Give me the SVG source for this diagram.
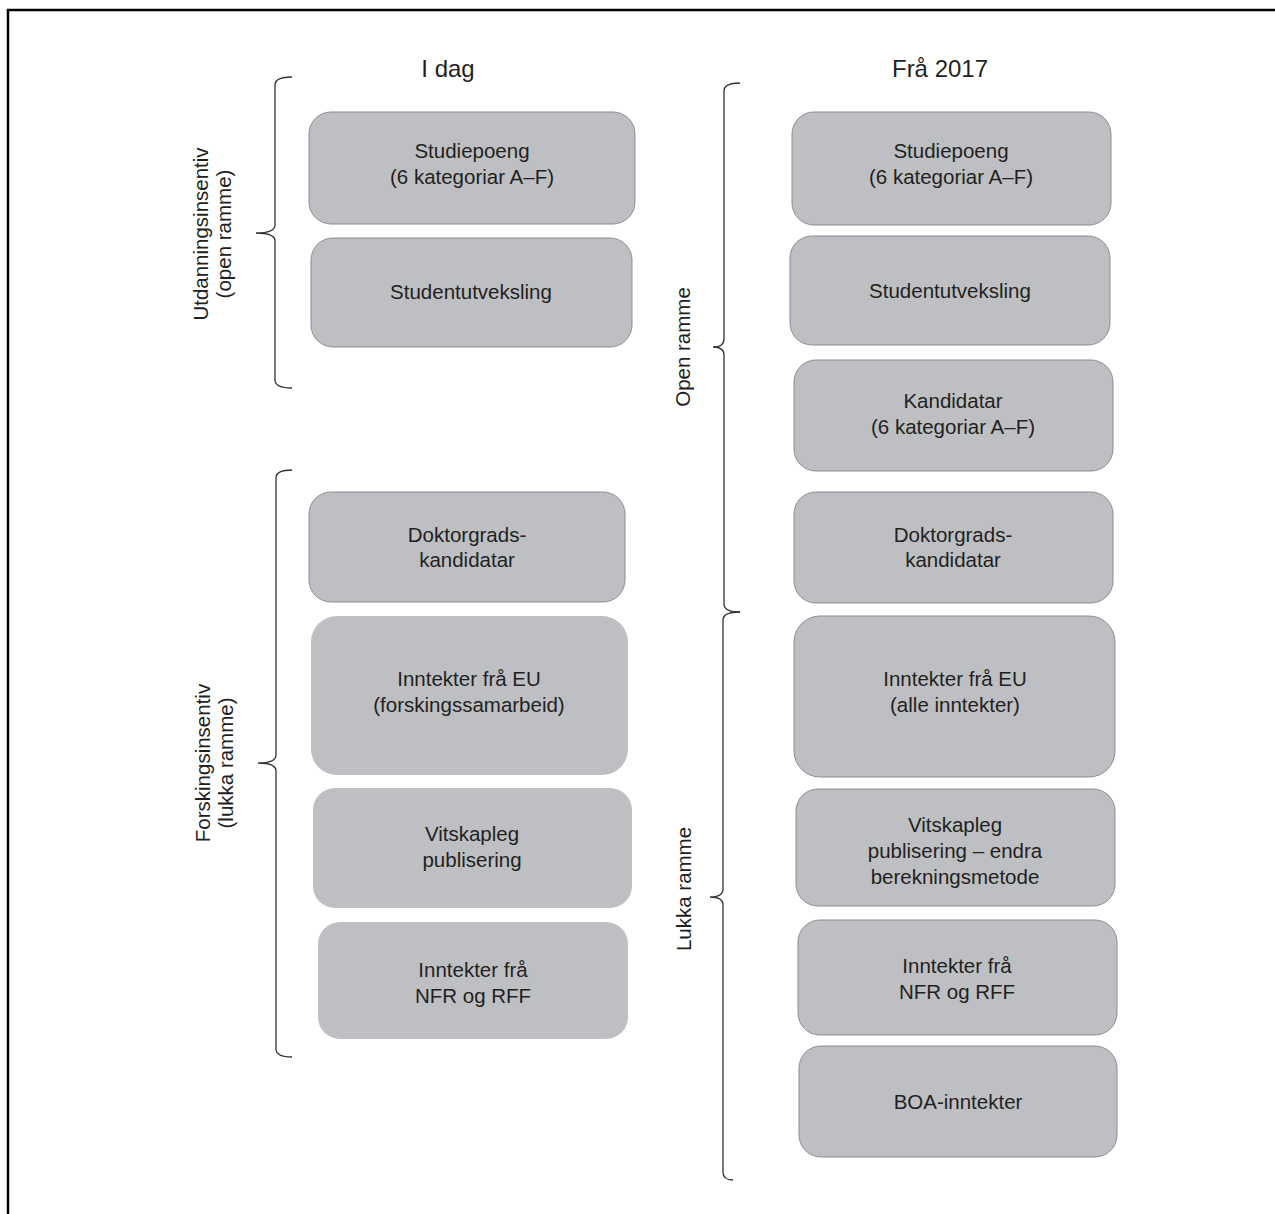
<svg xmlns="http://www.w3.org/2000/svg" width="1275" height="1214" viewBox="0 0 1275 1214">
<style>
.bx{fill:#bebfc2;stroke:#8c8d90;stroke-width:1}
.bn{fill:#bebfc2;stroke:none}
.t{font-family:"Liberation Sans",Arial,sans-serif;font-size:20.5px;fill:#231f20;text-anchor:middle}
.h{font-family:"Liberation Sans",Arial,sans-serif;font-size:24px;fill:#231f20;text-anchor:middle}
.br{fill:none;stroke:#333;stroke-width:1.3}
</style>
<rect width="1275" height="1214" fill="#fff"/>
<path d="M8 1214 V10 H1275" fill="none" stroke="#000" stroke-width="2.5"/>
<text class="h" x="448" y="77">I dag</text>
<text class="h" x="940" y="77">Frå 2017</text>
<g id="braces">
<path class="br" d="M292 77 Q275 77 275 85 L275 225 Q275 233 256 233 Q275 233 275 241 L275 380 Q275 388 292 388"/>
<path class="br" d="M292 470 Q276 470 276 478 L276 755 Q276 763 258 763 Q276 763 276 771 L276 1049 Q276 1057 292 1057"/>
<path class="br" d="M740 83 Q724 83 724 91 L724 339 Q724 347 713 347 Q724 347 724 355 L724 604 Q724 612 740 612"/>
<path class="br" d="M740 612 Q723 612 723 620 L723 889 Q723 897 710 897 Q723 897 723 905 L723 1172 Q723 1180 733 1180"/>
</g>
<text class="t" transform="translate(208 234) rotate(-90)">Utdanningsinsentiv</text>
<text class="t" transform="translate(231 234) rotate(-90)">(open ramme)</text>
<text class="t" transform="translate(210 763) rotate(-90)">Forskingsinsentiv</text>
<text class="t" transform="translate(233 763) rotate(-90)">(lukka ramme)</text>
<text class="t" transform="translate(690 347) rotate(-90)">Open ramme</text>
<text class="t" transform="translate(691 889) rotate(-90)">Lukka ramme</text>
<g id="L1"><rect class="bx" x="309" y="112" width="326" height="112" rx="22"/><text class="t" x="472" y="158">Studiepoeng</text><text class="t" x="472" y="184">(6 kategoriar A–F)</text></g>
<g id="L2"><rect class="bx" x="311" y="238" width="321" height="109" rx="22"/><text class="t" x="471" y="299">Studentutveksling</text></g>
<g id="L3"><rect class="bx" x="309" y="492" width="316" height="110" rx="22"/><text class="t" x="467" y="542">Doktorgrads-</text><text class="t" x="467" y="567">kandidatar</text></g>
<g id="L4"><rect class="bn" x="311" y="616" width="317" height="159" rx="26"/><text class="t" x="469" y="686">Inntekter frå EU</text><text class="t" x="469" y="712">(forskingssamarbeid)</text></g>
<g id="L5"><rect class="bn" x="313" y="788" width="319" height="120" rx="22"/><text class="t" x="472" y="841">Vitskapleg</text><text class="t" x="472" y="867">publisering</text></g>
<g id="L6"><rect class="bn" x="318" y="922" width="310" height="117" rx="22"/><text class="t" x="473" y="977">Inntekter frå</text><text class="t" x="473" y="1003">NFR og RFF</text></g>
<g id="R1"><rect class="bx" x="792" y="112" width="319" height="113" rx="22"/><text class="t" x="951" y="158">Studiepoeng</text><text class="t" x="951" y="184">(6 kategoriar A–F)</text></g>
<g id="R2"><rect class="bx" x="790" y="236" width="320" height="109" rx="22"/><text class="t" x="950" y="298">Studentutveksling</text></g>
<g id="R3"><rect class="bx" x="794" y="360" width="319" height="111" rx="22"/><text class="t" x="953" y="408">Kandidatar</text><text class="t" x="953" y="434">(6 kategoriar A–F)</text></g>
<g id="R4"><rect class="bx" x="794" y="492" width="319" height="111" rx="22"/><text class="t" x="953" y="542">Doktorgrads-</text><text class="t" x="953" y="567">kandidatar</text></g>
<g id="R5"><rect class="bx" x="794" y="616" width="321" height="161" rx="26"/><text class="t" x="955" y="686">Inntekter frå EU</text><text class="t" x="955" y="712">(alle inntekter)</text></g>
<g id="R6"><rect class="bx" x="796" y="789" width="319" height="117" rx="22"/><text class="t" x="955" y="832">Vitskapleg</text><text class="t" x="955" y="858">publisering – endra</text><text class="t" x="955" y="884">berekningsmetode</text></g>
<g id="R7"><rect class="bx" x="798" y="920" width="319" height="115" rx="22"/><text class="t" x="957" y="973">Inntekter frå</text><text class="t" x="957" y="999">NFR og RFF</text></g>
<g id="R8"><rect class="bx" x="799" y="1046" width="318" height="111" rx="22"/><text class="t" x="958" y="1109">BOA-inntekter</text></g>
</svg>
